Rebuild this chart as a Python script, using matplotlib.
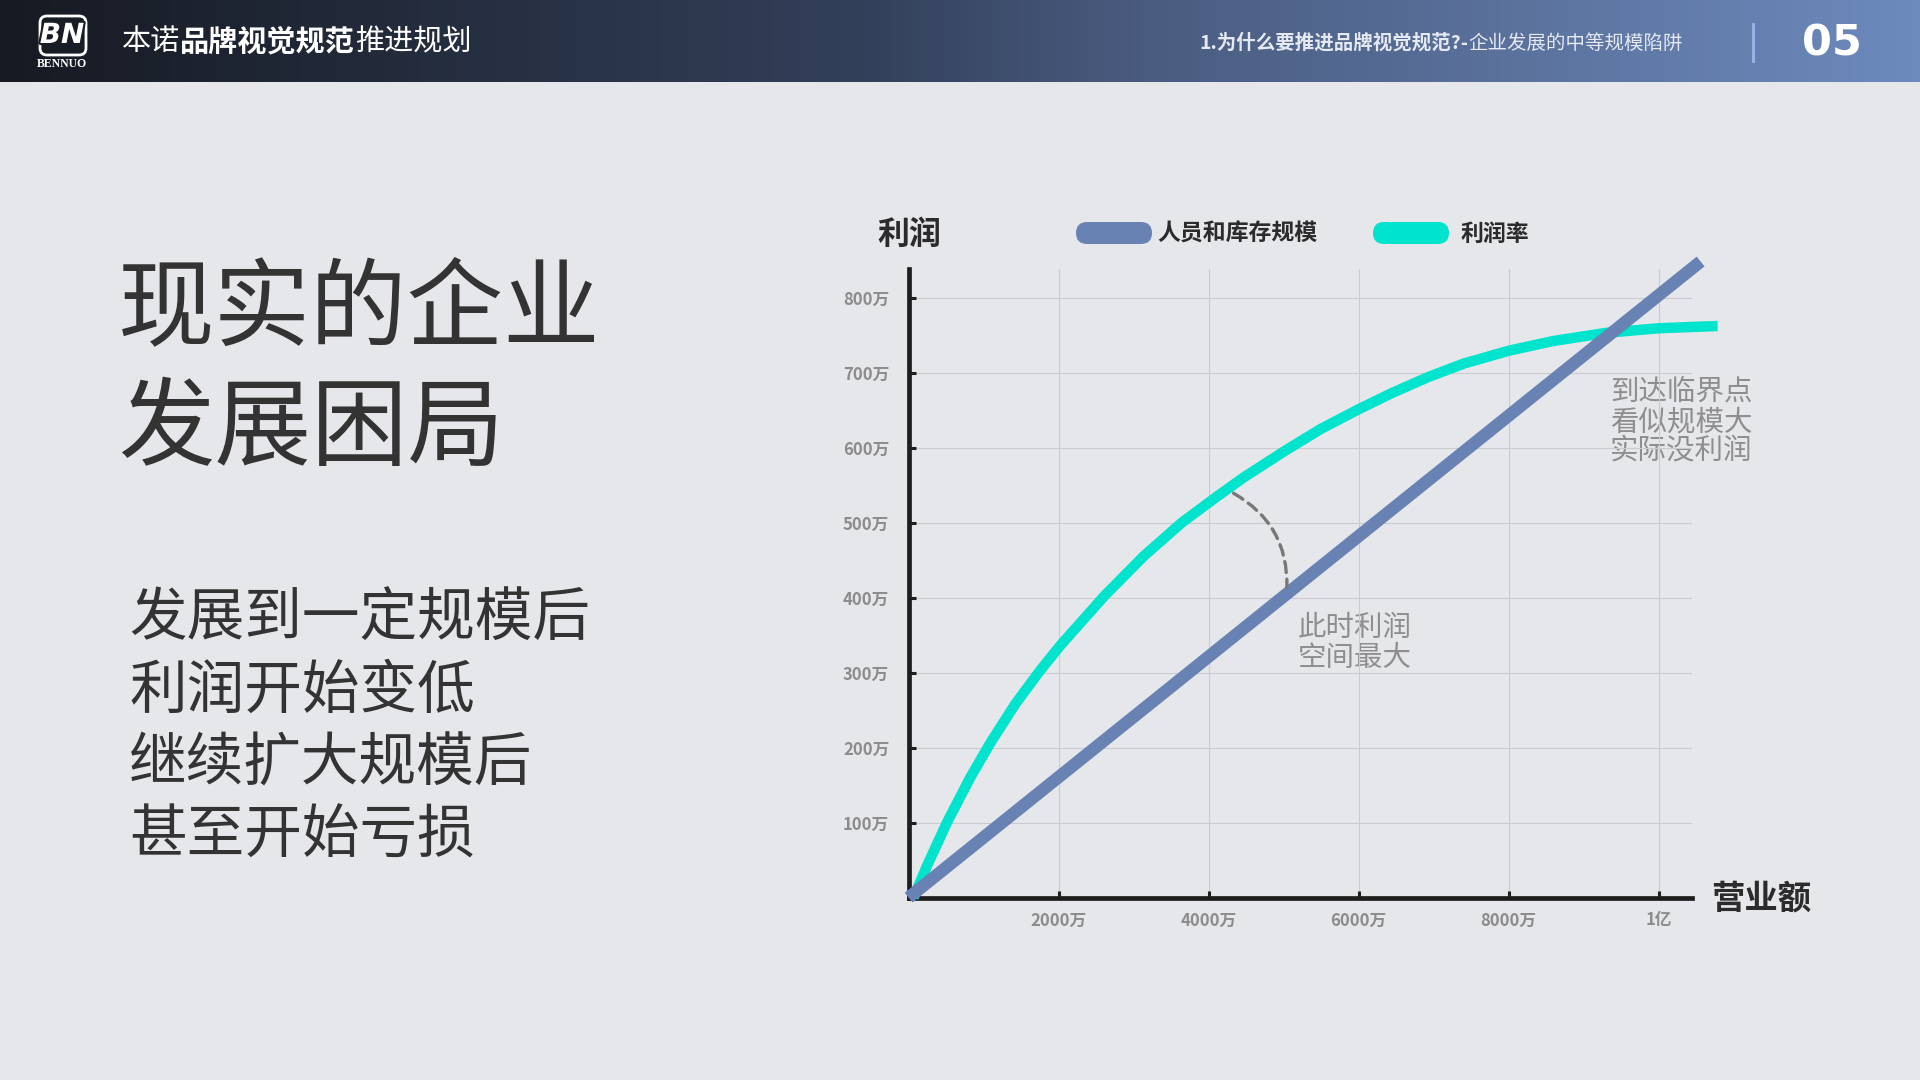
import numpy as np
import matplotlib
matplotlib.use("Agg")
import matplotlib.pyplot as plt
from matplotlib.patches import FancyBboxPatch
from matplotlib.colors import LinearSegmentedColormap
import matplotlib.patheffects as pe

plt.rcParams['font.family'] = ['Noto Sans CJK SC', 'DejaVu Sans']

# ---------------- data ----------------
x_ticks = [2000, 4000, 6000, 8000, 10000]
x_tick_labels = ["2000万", "4000万", "6000万", "8000万", "1亿"]
y_ticks = [100, 200, 300, 400, 500, 600, 700, 800]
y_tick_labels = ["100万", "200万", "300万", "400万", "500万", "600万", "700万", "800万"]

scale_x = [0, 10560]          # 人员和库存规模 (营业额, 万)
scale_y = [0, 848]            # 利润 (万)

rate_x = [67, 244, 511, 822, 1089, 1422, 1756, 2022, 2609, 3133, 3644, 4089,
          4466, 5024, 5500, 6000, 6452, 6929, 7405, 8000, 8595, 9310, 10000, 10786]
rate_y = [0, 42, 100, 160, 206, 258, 303, 336, 402, 455, 500, 533,
          560, 596, 625, 651, 673, 694, 712, 729, 742, 753, 759, 762]

series_names = ["人员和库存规模", "利润率"]
arc_start = (4333, 539)
arc_end = (5044, 413)

BLUE = "#6882b4"
TEAL = "#00e3cc"
BG = "#e6e7eb"
DARK = "#2b2b2b"

W, H = 1920, 1080
fig = plt.figure(figsize=(W / 100, H / 100), dpi=100, facecolor=BG)

# overlay axes in pixel units (y down)
ov = fig.add_axes([0, 0, 1, 1], zorder=0)
ov.set_facecolor(BG)

# header gradient
cmap = LinearSegmentedColormap.from_list(
    "hdr", [(0, "#161a22"), (0.45, "#33405a"), (0.6, "#4a5c80"), (1.0, "#6d8abd")])
grad = np.linspace(0, 1, 512).reshape(1, -1)
ov.imshow(grad, extent=[0, W, 82, 0], aspect='auto', cmap=cmap, zorder=0)
ov.set_xlim(0, W)
ov.set_ylim(H, 0)
ov.axis('off')

# logo
logo = FancyBboxPatch((40, 16), 46, 39, boxstyle="round,pad=0,rounding_size=7",
                      fc="none", ec="white", lw=2.0, zorder=2)
ov.add_patch(logo)
ov.text(62, 35, "BN", fontsize=20, fontweight='bold', style='italic', color='white',
        ha='center', va='center', family='DejaVu Sans', zorder=3,
        path_effects=[pe.withStroke(linewidth=3, foreground="#181c24")])
ov.text(62, 64, "BENNUO", fontsize=8.5, fontweight='bold', color='white',
        ha='center', va='center', family='Liberation Serif', zorder=3)

renderer = fig.canvas.get_renderer()


def runs(x, y, parts, size):
    for s, w, c in parts:
        t = ov.text(x, y, s, fontsize=size, fontweight=w, color=c, ha='left', va='center', zorder=3)
        bb = t.get_window_extent(renderer=renderer)
        x += bb.width
    return x


runs(122, 42, [("本诺", 'light', 'white'), ("品牌视觉规范", 'bold', 'white'),
               ("推进规划", 'light', 'white')], 21)
runs(1199, 43, [("1.为什么要推进品牌视觉规范?-", 'bold', '#e4e9f2'),
                ("企业发展的中等规模陷阱", 'normal', '#e4e9f2')], 14)
ov.plot([1753, 1753], [24, 61], color="#98b6ea", lw=2, zorder=3)
ov.text(1832, 44, "05", fontsize=31, fontweight='heavy', color='white',
        ha='center', va='center', family='DejaVu Sans', zorder=3)

# left texts
ov.text(118, 310, "现实的企业", fontsize=69.5, color="#333333", ha='left', va='center')
ov.text(118, 430, "发展困局", fontsize=69.5, color="#333333", ha='left', va='center')
for txt, yy in zip(["发展到一定规模后", "利润开始变低", "继续扩大规模后", "甚至开始亏损"],
                   [620, 692, 764, 836]):
    ov.text(129, yy, txt, fontsize=41.5, color="#333333", ha='left', va='center')

# chart titles & legend
ov.text(909, 235, "利润", fontsize=23, fontweight='bold', color=DARK, ha='center', va='center')
ov.text(1761, 899, "营业额", fontsize=24, fontweight='bold', color=DARK, ha='center', va='center')
for (x0, tx, col, name) in [(1076, 1157, BLUE, series_names[0]), (1373, 1461, TEAL, series_names[1])]:
    ov.add_patch(FancyBboxPatch((x0, 222), 76, 22, boxstyle="round,pad=0,rounding_size=11",
                                fc=col, ec='none', zorder=2))
    ov.text(tx, 234, name, fontsize=16.5, fontweight='bold', color=DARK,
            ha='left', va='center')

# annotations
for txt, yy in zip(["此时利润", "空间最大"], [628, 658]):
    ov.text(1298, yy, txt, fontsize=20.5, color="#8e8e8e", ha='left', va='center')
for txt, yy in zip(["到达临界点", "看似规模大", "实际没利润"], [392, 422, 451]):
    ov.text(1610, yy, txt, fontsize=20.5, color="#8e8e8e", ha='left', va='center')

# ---------------- chart ----------------
left, right, top, bottom = 908.6, 1692, 269, 897.6
ax = fig.add_axes([left / W, 1 - bottom / H, (right - left) / W, (bottom - top) / H], zorder=1)
ax.set_facecolor('none')
ax.set_xlim(0, 10445)
ax.set_ylim(0, 838)

for s in ['top', 'right']:
    ax.spines[s].set_visible(False)
for s in ['left', 'bottom']:
    ax.spines[s].set_color("#1e1e1e")
    ax.spines[s].set_linewidth(3.4)
    ax.spines[s].set_capstyle('projecting')

ax.set_xticks(x_ticks)
ax.set_xticklabels(x_tick_labels)
ax.set_yticks(y_ticks)
ax.set_yticklabels(y_tick_labels)
ax.tick_params(axis='both', direction='in', length=5, width=2.2, color="#1e1e1e",
               labelsize=12, labelcolor="#8c8c8c")
ax.tick_params(axis='x', pad=10)
ax.tick_params(axis='y', pad=14)
for lab in ax.get_xticklabels() + ax.get_yticklabels():
    lab.set_fontweight('bold')

ax.grid(True, color="#c9cbd1", lw=0.8)
ax.set_axisbelow(True)

ax.plot(rate_x, rate_y, color=TEAL, lw=7.5, solid_capstyle='butt', solid_joinstyle='round',
        clip_on=False, zorder=3)
ax.plot(scale_x, scale_y, color=BLUE, lw=9, solid_capstyle='butt', clip_on=False, zorder=4)

ax.annotate("", xy=arc_end, xytext=arc_start,
            arrowprops=dict(arrowstyle='-', color="#787878", lw=2.4,
                            linestyle=(0, (3.3, 2.0)),
                            connectionstyle="arc3,rad=-0.3",
                            shrinkA=0, shrinkB=0), zorder=5)

fig.savefig("out.png", dpi=100, facecolor=BG)
